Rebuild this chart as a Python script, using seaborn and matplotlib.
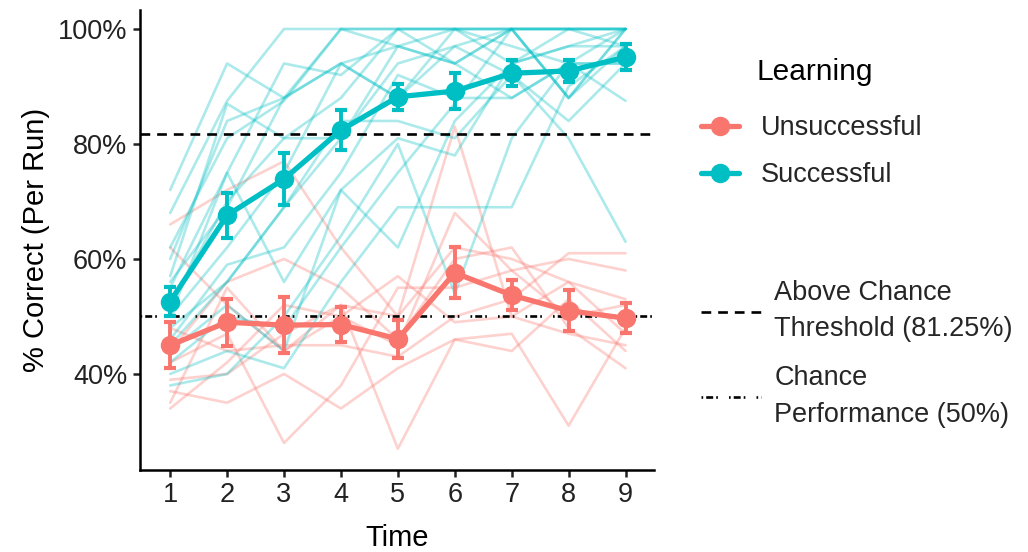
import numpy as np
import pandas as pd
import matplotlib
matplotlib.use("Agg")
import matplotlib.pyplot as plt
import seaborn as sns
from matplotlib.lines import Line2D
from matplotlib.ticker import PercentFormatter

# ---------------- data (percent correct) ----------------
time = [1, 2, 3, 4, 5, 6, 7, 8, 9]

successful_runs = [
    [72, 94, 88, 100, 100, 100, 100, 100, 100],
    [68, 87.5, 100, 100, 100, 100, 100, 100, 100],
    [62, 81, 87.5, 100, 97, 100, 100, 88, 100],
    [57, 87, 81, 88, 100, 100, 94, 100, 100],
    [55, 75, 94, 92, 100, 94, 100, 88, 100],
    [52, 70, 81, 81, 94, 97, 100, 100, 97],
    [50, 62, 75, 94, 88, 100, 97, 94, 94],
    [48, 56, 69, 84, 84, 81, 92, 84, 94],
    [46, 59, 62, 75, 92, 88, 88, 94, 87.5],
    [44, 52, 44, 72, 81, 78, 94, 97, 100],
    [42, 50, 48, 62, 75, 87, 100, 100, 100],
    [40, 44, 41, 56, 69, 69, 69, 90, 97],
    [38, 40, 50, 64, 80, 54, 81, 94, 100],
    [60, 84, 88, 94, 88, 97, 92, 81, 63],
    [50, 75, 56, 72, 62, 84, 94, 97, 97],
    [56, 69, 88, 94, 97, 94, 88, 94, 94],
    [45, 56, 69, 81, 97, 94, 100, 88, 97],
]

unsuccessful_runs = [
    [66, 72, 77, 62, 50, 83, 50, 47, 45],
    [62, 52, 44, 52, 50, 62, 60, 56, 53],
    [48, 44, 45, 45, 43, 50, 53, 61, 61],
    [44, 56, 60, 55, 46, 60, 62, 48, 41],
    [42, 47, 28, 38, 55, 55, 58, 60, 58],
    [39, 40, 47, 52, 27, 46, 47, 31, 48],
    [37, 35, 40, 34, 41, 46, 44, 53, 44],
    [34, 42, 52, 50, 45, 68, 58, 50, 52],
    [35, 55, 44, 50, 57, 49, 50, 56, 47],
]

successful_mean = [52.6, 67.6, 73.9, 82.4, 88.2, 89.2, 92.3, 92.7, 95.1]
successful_se = [2.5, 3.9, 4.5, 3.5, 2.3, 3.1, 2.3, 1.9, 2.3]
unsuccessful_mean = [45.0, 49.0, 48.5, 48.6, 46.1, 57.6, 53.7, 51.0, 49.7]
unsuccessful_se = [4.0, 4.1, 4.9, 3.0, 3.3, 4.4, 2.6, 3.6, 2.6]

groups = ["Unsuccessful", "Successful"]
colors = ["#F8766D", "#00BFC4"]
threshold_level = 81.8   # as drawn in the reference
chance_level = 50.0
ref_labels = ["Above Chance\nThreshold (81.25%)", "Chance\nPerformance (50%)"]

# ---------------- build frames ----------------
rows = []
for g, runs in zip(groups, [unsuccessful_runs, successful_runs]):
    for i, r in enumerate(runs):
        for t, v in zip(time, r):
            rows.append({"Learning": g, "subject": f"{g}_{i}", "Time": t, "acc": v / 100})
ind = pd.DataFrame(rows)

mrows = []
for g, m, s in zip(groups, [unsuccessful_mean, successful_mean],
                   [unsuccessful_se, successful_se]):
    for t, v, e in zip(time, m, s):
        mrows.append({"Learning": g, "Time": t, "acc": v / 100, "se": e / 100})
means = pd.DataFrame(mrows)

# ---------------- plot ----------------
sns.set_theme(style="ticks")
plt.rcParams["font.family"] = ["Liberation Sans", "DejaVu Sans"]
plt.rcParams["lines.scale_dashes"] = False

fig = plt.figure(figsize=(10.28, 5.52), dpi=100)
ax = fig.add_axes([140 / 1028, 1 - 470 / 552, 514 / 1028, 460 / 552])

palette = dict(zip(groups, colors))

sns.lineplot(data=ind, x="Time", y="acc", hue="Learning", units="subject",
             estimator=None, palette=palette, hue_order=groups, alpha=0.33,
             linewidth=1.9, ax=ax, legend=False, zorder=1)

dash_thr = (7, 5)
dash_chance = (1.2, 2.2, 5, 2.2, 1.2, 8)
ax.axhline(threshold_level / 100, color="black", linewidth=1.9, dashes=dash_thr, zorder=2)
ax.axhline(chance_level / 100, color="black", linewidth=1.9, dashes=dash_chance, zorder=2)

sns.lineplot(data=means, x="Time", y="acc", hue="Learning", palette=palette,
             hue_order=groups, linewidth=3.8, marker="o", markersize=14,
             markeredgewidth=0, ax=ax, legend=False, zorder=4)

for g, c in zip(groups, colors):
    sub = means[means["Learning"] == g]
    ax.errorbar(sub["Time"], sub["acc"], yerr=sub["se"], fmt="none",
                ecolor=c, elinewidth=2.8, capsize=4.2, capthick=3.0, zorder=3)

ax.set_xlim(0.47, 9.5)
ax.set_ylim(0.233, 1.033)
ax.set_xticks(time)
ax.set_yticks([0.4, 0.6, 0.8, 1.0])
ax.yaxis.set_major_formatter(PercentFormatter(1.0, decimals=0))
ax.set_xlabel("Time", fontsize=21, color="black", labelpad=11)
ax.set_ylabel("% Correct (Per Run)", fontsize=21, color="black", labelpad=6)
ax.tick_params(axis="both", labelsize=19.5, colors="#222222", length=5, width=1.8,
               pad=4)
for s in ["left", "bottom"]:
    ax.spines[s].set_linewidth(1.8)
    ax.spines[s].set_color("black")
sns.despine(ax=ax)

# ---------------- legends ----------------
fig.text(815 / 1028, 1 - 72 / 552, "Learning", ha="center", va="center",
         fontsize=21.5, color="black")
h1 = [Line2D([0], [0], color=c, linewidth=3.8, marker="o", markersize=14,
             markeredgewidth=0) for c in colors]
leg1 = fig.legend(h1, groups, loc="upper left",
                  bbox_to_anchor=(701 / 1028, 1 - 115 / 552), frameon=False,
                  fontsize=19.5, handlelength=1.4,
                  handletextpad=0.8, labelspacing=0.78, borderpad=0,
                  borderaxespad=0)
h2 = [Line2D([0], [0], color="black", linewidth=1.9, dashes=dash_thr),
      Line2D([0], [0], color="black", linewidth=1.9, dashes=dash_chance)]
leg2 = fig.legend(h2, ref_labels,
                  loc="upper left", bbox_to_anchor=(701 / 1028, 1 - 280 / 552),
                  frameon=False, fontsize=19.5, handlelength=2.2,
                  handletextpad=0.5, labelspacing=0.85, borderpad=0,
                  borderaxespad=0)
for t in leg2.get_texts():
    t.set_linespacing(1.52)

fig.savefig("out.png", dpi=100)
